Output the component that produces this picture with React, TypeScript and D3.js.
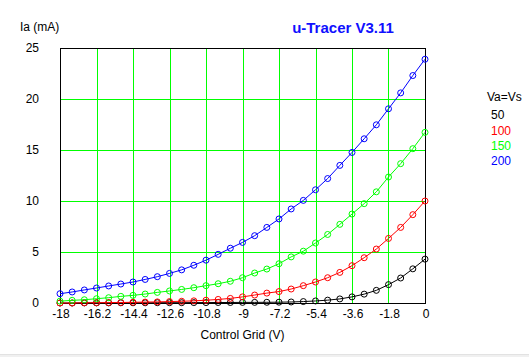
import React from "react";
import * as d3 from "d3";

const gridVoltages: number[] = d3.range(31).map((i) => -18 + i * 0.6);

const seriesLabels = ["50", "100", "150", "200"];
const seriesColors = ["#000000", "#ff0000", "#00ff00", "#0000ff"];

const ia50 = [0, 0, 0.01, 0.01, 0.01, 0.02, 0.02, 0.02, 0.03, 0.03, 0.03, 0.04, 0.04, 0.05, 0.05, 0.06, 0.06, 0.07, 0.08, 0.1, 0.14, 0.2, 0.28, 0.4, 0.6, 0.87, 1.24, 1.8, 2.45, 3.35, 4.3];
const ia100 = [0, 0, 0.02, 0.03, 0.04, 0.05, 0.07, 0.09, 0.11, 0.14, 0.17, 0.21, 0.27, 0.35, 0.45, 0.6, 0.78, 0.97, 1.12, 1.37, 1.7, 2.06, 2.48, 3.0, 3.66, 4.44, 5.29, 6.33, 7.41, 8.66, 10.0];
const ia150 = [0.18, 0.26, 0.32, 0.42, 0.52, 0.65, 0.75, 0.88, 1.04, 1.18, 1.33, 1.5, 1.7, 1.89, 2.13, 2.48, 2.94, 3.33, 3.85, 4.52, 5.08, 5.88, 6.72, 7.71, 8.72, 9.74, 10.9, 12.35, 13.66, 15.13, 16.73];
const ia200 = [0.91, 1.08, 1.28, 1.47, 1.67, 1.86, 2.06, 2.31, 2.58, 2.9, 3.25, 3.7, 4.2, 4.77, 5.37, 5.94, 6.6, 7.41, 8.24, 9.22, 10.06, 11.1, 12.2, 13.49, 14.76, 16.1, 17.47, 19.04, 20.6, 22.3, 23.9];
const seriesValues = [ia50, ia100, ia150, ia200];

const xTicks = [-18, -16.2, -14.4, -12.6, -10.8, -9, -7.2, -5.4, -3.6, -1.8, 0];
const yTicks = [0, 5, 10, 15, 20, 25];

const W = 529;
const H = 357;
const left = 60;
const right = 425;
const top = 48;
const bottom = 303;

export default function App() {
  const x = d3.scaleLinear().domain([-18, 0]).range([left, right]);
  const y = d3.scaleLinear().domain([0, 25]).range([bottom, top]);
  const line = d3
    .line<[number, number]>()
    .x((d) => x(d[0]))
    .y((d) => y(d[1]));
  const font = "'Liberation Sans', Arial, sans-serif";

  return (
    <svg
      width={W}
      height={H}
      style={{ position: "absolute", left: 0, top: 0, display: "block" }}
      fontFamily={font}
    >
      <rect x={0} y={0} width={W} height={H} fill="#ffffff" />
      <rect x={0} y={354} width={W} height={3} fill="#f0f0f0" />
      <line x1={0} x2={W} y1={354.5} y2={354.5} stroke="#e2e2e2" />

      {/* grid */}
      <g shapeRendering="crispEdges" stroke="#00ff00" strokeWidth={1}>
        {xTicks.slice(1, -1).map((t) => (
          <line key={"gx" + t} x1={Math.round(x(t)) + 0.5} x2={Math.round(x(t)) + 0.5} y1={top} y2={bottom} />
        ))}
        {yTicks.slice(1, -1).map((t) => (
          <line key={"gy" + t} x1={left} x2={right} y1={Math.round(y(t)) + 0.5} y2={Math.round(y(t)) + 0.5} />
        ))}
      </g>

      {/* frame */}
      <rect
        x={left + 0.5}
        y={top + 0.5}
        width={right - left}
        height={bottom - top}
        fill="none"
        stroke="#000"
        strokeWidth={1}
        shapeRendering="crispEdges"
      />

      {/* series */}
      {seriesValues.map((vals, si) => {
        const pts: [number, number][] = vals.map((v, i) => [gridVoltages[i], v]);
        return (
          <g key={"s" + si}>
            <path d={line(pts) || ""} fill="none" stroke={seriesColors[si]} strokeWidth={1} />
            {pts.map((p, i) => (
              <circle
                key={i}
                cx={x(p[0])}
                cy={y(p[1])}
                r={3}
                fill="none"
                stroke={seriesColors[si]}
                strokeWidth={1}
              />
            ))}
          </g>
        );
      })}

      {/* y tick labels */}
      {yTicks.map((t) => (
        <text key={"yl" + t} x={39} y={y(t)} dy="0.35em" textAnchor="end" fontSize={12} fill="#000">
          {t}
        </text>
      ))}
      {/* x tick labels */}
      {xTicks.map((t) => (
        <text key={"xl" + t} x={x(t) + 1} y={314} dy="0.35em" textAnchor="middle" fontSize={12} fill="#000">
          {String(t)}
        </text>
      ))}

      <text x={(left + right) / 2} y={335} dy="0.35em" textAnchor="middle" fontSize={12} fill="#000">
        Control Grid (V)
      </text>
      <text x={20} y={27} dy="0.35em" fontSize={12} fill="#000">
        Ia (mA)
      </text>
      <text x={343} y={28} dy="0.35em" textAnchor="middle" fontSize={15} fontWeight="bold" fill="#1010ff">
        u-Tracer V3.11
      </text>

      {/* legend */}
      <text x={487} y={97} dy="0.35em" fontSize={12} fill="#000">
        Va=Vs
      </text>
      {seriesLabels.map((s, i) => (
        <text key={"lg" + s} x={491} y={115 + i * 15.3} dy="0.35em" fontSize={12} fill={seriesColors[i]}>
          {s}
        </text>
      ))}
    </svg>
  );
}
